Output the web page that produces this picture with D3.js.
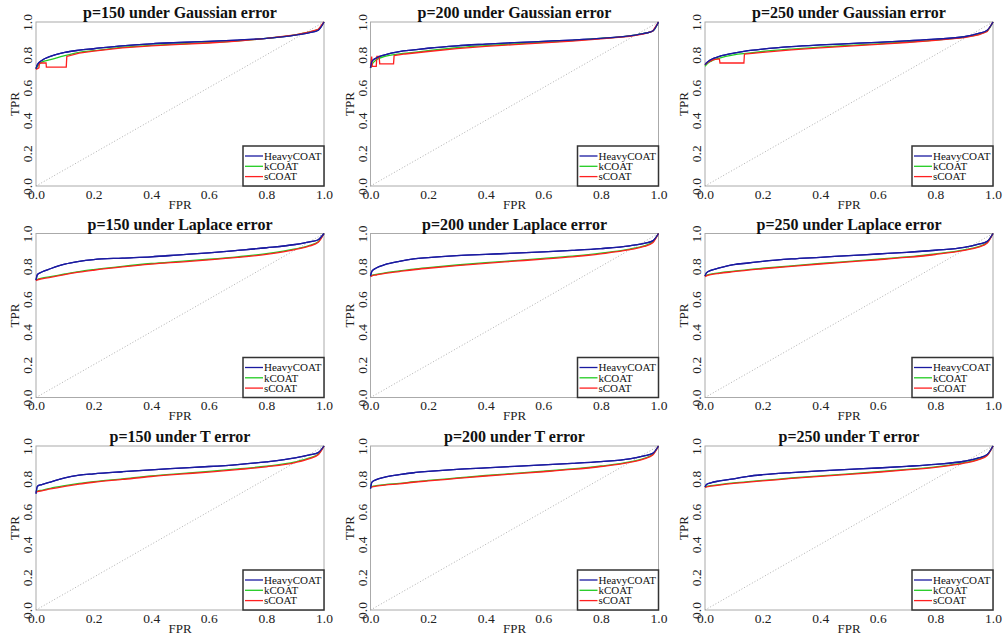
<!DOCTYPE html>
<html><head><meta charset="utf-8">
<script src="https://cdn.jsdelivr.net/npm/d3@7"></script>
<style>body{margin:0;background:#fff}svg{display:block}</style>
</head><body>
<script>
// ---------- data ----------
const seriesNames = ["HeavyCOAT", "kCOAT", "sCOAT"];
const dims = [150, 200, 250];
const errors = ["Gaussian", "Laplace", "T"];
const tickValues = [0, 0.2, 0.4, 0.6, 0.8, 1.0];
const fprGrid = [0, 0.005, 0.02, 0.05, 0.1, 0.15, 0.2, 0.3, 0.4, 0.5, 0.6, 0.7, 0.8, 0.9, 0.95, 0.98, 1.0];

// Gaussian error
const heavyG150 = [0.715, 0.74, 0.765, 0.79, 0.815, 0.828, 0.837, 0.855, 0.867, 0.875, 0.882, 0.89, 0.9, 0.92, 0.935, 0.95, 1.0];
const kG150     = [0.715, 0.73, 0.755, 0.77, 0.795, 0.815, 0.825, 0.845, 0.857, 0.866, 0.874, 0.885, 0.9, 0.922, 0.94, 0.955, 1.0];
const sFprG150  = [0, 0.01, 0.012, 0.035, 0.036, 0.105, 0.107, 0.15, 0.2, 0.3, 0.4, 0.5, 0.6, 0.7, 0.8, 0.9, 0.95, 0.98, 1.0];
const sG150     = [0.71, 0.72, 0.75, 0.75, 0.725, 0.725, 0.79, 0.81, 0.822, 0.842, 0.855, 0.864, 0.872, 0.883, 0.9, 0.922, 0.94, 0.955, 1.0];

const heavyG200 = [0.72, 0.76, 0.78, 0.80, 0.82, 0.83, 0.84, 0.855, 0.865, 0.874, 0.882, 0.89, 0.9, 0.915, 0.93, 0.945, 1.0];
const kG200     = [0.72, 0.74, 0.77, 0.79, 0.805, 0.815, 0.825, 0.843, 0.856, 0.866, 0.876, 0.887, 0.9, 0.915, 0.93, 0.945, 1.0];
const sFprG200  = [0, 0.004, 0.006, 0.009, 0.02, 0.022, 0.03, 0.032, 0.08, 0.082, 0.12, 0.2, 0.3, 0.4, 0.5, 0.6, 0.7, 0.8, 0.9, 0.95, 0.98, 1.0];
const sG200     = [0.72, 0.79, 0.73, 0.73, 0.73, 0.79, 0.79, 0.745, 0.745, 0.795, 0.805, 0.82, 0.838, 0.851, 0.862, 0.873, 0.884, 0.897, 0.913, 0.928, 0.944, 1.0];

const heavyG250 = [0.74, 0.75, 0.77, 0.79, 0.81, 0.825, 0.835, 0.85, 0.86, 0.868, 0.876, 0.885, 0.895, 0.91, 0.93, 0.95, 1.0];
const kG250     = [0.73, 0.74, 0.76, 0.78, 0.80, 0.81, 0.82, 0.835, 0.847, 0.857, 0.867, 0.878, 0.89, 0.908, 0.925, 0.945, 1.0];
const sFprG250  = [0, 0.01, 0.03, 0.05, 0.052, 0.135, 0.137, 0.2, 0.3, 0.4, 0.5, 0.6, 0.7, 0.8, 0.9, 0.95, 0.98, 1.0];
const sG250     = [0.74, 0.755, 0.77, 0.775, 0.75, 0.75, 0.805, 0.815, 0.83, 0.842, 0.853, 0.863, 0.875, 0.888, 0.905, 0.922, 0.942, 1.0];

// Laplace error
const heavyL150 = [0.715, 0.75, 0.765, 0.785, 0.813, 0.83, 0.841, 0.85, 0.858, 0.87, 0.882, 0.897, 0.913, 0.933, 0.949, 0.962, 1.0];
const kL150     = [0.715, 0.72, 0.728, 0.737, 0.753, 0.768, 0.78, 0.8, 0.817, 0.83, 0.843, 0.858, 0.877, 0.906, 0.928, 0.95, 1.0];
const sL150     = [0.712, 0.717, 0.724, 0.733, 0.749, 0.764, 0.776, 0.796, 0.813, 0.826, 0.839, 0.854, 0.873, 0.902, 0.924, 0.946, 1.0];

const heavyL200 = [0.74, 0.77, 0.79, 0.81, 0.83, 0.845, 0.853, 0.865, 0.873, 0.88, 0.888, 0.897, 0.908, 0.925, 0.94, 0.955, 1.0];
const kL200     = [0.74, 0.745, 0.75, 0.76, 0.772, 0.783, 0.792, 0.808, 0.822, 0.835, 0.848, 0.862, 0.88, 0.905, 0.925, 0.948, 1.0];
const sL200     = [0.737, 0.742, 0.747, 0.757, 0.768, 0.779, 0.788, 0.804, 0.818, 0.831, 0.844, 0.858, 0.876, 0.901, 0.921, 0.944, 1.0];

const heavyL250 = [0.74, 0.76, 0.775, 0.79, 0.81, 0.82, 0.83, 0.845, 0.855, 0.865, 0.875, 0.885, 0.898, 0.915, 0.935, 0.952, 1.0];
const kL250     = [0.74, 0.745, 0.752, 0.76, 0.77, 0.78, 0.788, 0.803, 0.817, 0.83, 0.843, 0.857, 0.875, 0.9, 0.92, 0.945, 1.0];
const sL250     = [0.737, 0.742, 0.749, 0.757, 0.767, 0.777, 0.785, 0.8, 0.814, 0.827, 0.84, 0.854, 0.872, 0.897, 0.917, 0.942, 1.0];

// T error
const heavyT150 = [0.71, 0.755, 0.765, 0.78, 0.806, 0.822, 0.83, 0.843, 0.855, 0.865, 0.875, 0.887, 0.903, 0.927, 0.946, 0.96, 1.0];
const kT150     = [0.72, 0.725, 0.73, 0.742, 0.758, 0.772, 0.783, 0.8, 0.818, 0.832, 0.845, 0.86, 0.877, 0.903, 0.927, 0.95, 1.0];
const sT150     = [0.717, 0.722, 0.727, 0.738, 0.754, 0.768, 0.779, 0.796, 0.814, 0.828, 0.841, 0.856, 0.873, 0.899, 0.923, 0.946, 1.0];

const heavyT200 = [0.74, 0.78, 0.795, 0.81, 0.825, 0.837, 0.845, 0.858, 0.867, 0.876, 0.885, 0.894, 0.905, 0.922, 0.94, 0.955, 1.0];
const kT200     = [0.75, 0.753, 0.758, 0.765, 0.772, 0.782, 0.79, 0.805, 0.82, 0.833, 0.846, 0.86, 0.878, 0.903, 0.925, 0.948, 1.0];
const sT200     = [0.747, 0.75, 0.755, 0.762, 0.769, 0.779, 0.787, 0.802, 0.817, 0.83, 0.843, 0.857, 0.875, 0.9, 0.922, 0.945, 1.0];

const heavyT250 = [0.75, 0.765, 0.775, 0.787, 0.80, 0.815, 0.825, 0.838, 0.848, 0.857, 0.866, 0.876, 0.888, 0.907, 0.927, 0.948, 1.0];
const kT250     = [0.75, 0.753, 0.758, 0.765, 0.775, 0.783, 0.79, 0.805, 0.818, 0.83, 0.843, 0.857, 0.873, 0.898, 0.92, 0.945, 1.0];
const sT250     = [0.747, 0.75, 0.755, 0.762, 0.772, 0.78, 0.787, 0.802, 0.815, 0.827, 0.84, 0.854, 0.87, 0.895, 0.917, 0.942, 1.0];

// panels in reading order: [title dims/error, heavy, k, s-fpr, s-tpr]
const panels = [
  [150, "Gaussian", heavyG150, kG150, sFprG150, sG150],
  [200, "Gaussian", heavyG200, kG200, sFprG200, sG200],
  [250, "Gaussian", heavyG250, kG250, sFprG250, sG250],
  [150, "Laplace", heavyL150, kL150, fprGrid, sL150],
  [200, "Laplace", heavyL200, kL200, fprGrid, sL200],
  [250, "Laplace", heavyL250, kL250, fprGrid, sL250],
  [150, "T", heavyT150, kT150, fprGrid, sT150],
  [200, "T", heavyT200, kT200, fprGrid, sT200],
  [250, "T", heavyT250, kT250, fprGrid, sT250]
];

// ---------- layout ----------
const W = 1005, H = 638;
const colLeft = [36, 370.5, 705];
const rowTop = [22, 233.5, 446];
const pw = 288, ph = 164;
const colors = ["#1a1aa0", "#22cc22", "#ff2020"];
const serif = "'Liberation Serif','Times New Roman',serif";

const svg = d3.select("body").append("svg").attr("width", W).attr("height", H)
  .style("font-family", serif);

const x = d3.scaleLinear().domain([0, 1]).range([0, pw]);
const y = d3.scaleLinear().domain([0, 1]).range([ph, 0]);

panels.forEach((p, i) => {
  const [dim, err, heavy, k, sFpr, s] = p;
  const g = svg.append("g").attr("transform", `translate(${colLeft[i % 3]},${rowTop[Math.floor(i / 3)]})`);

  // frame
  g.append("rect").attr("x", 0).attr("y", 0).attr("width", pw).attr("height", ph)
    .attr("fill", "none").attr("stroke", "#aaaaaa").attr("stroke-width", 1);

  // diagonal reference
  g.append("line").attr("x1", x(0)).attr("y1", y(0)).attr("x2", x(1)).attr("y2", y(1))
    .attr("stroke", "#9a9a9a").attr("stroke-width", 0.8).attr("stroke-dasharray", "1,2");

  // axes
  const xa = g.append("g").attr("transform", `translate(0,${ph})`)
    .call(d3.axisBottom(x).tickValues(tickValues).tickFormat(d3.format(".1f")).tickSize(0).tickPadding(3));
  xa.select(".domain").remove();
  xa.selectAll("text").attr("font-family", serif).attr("font-size", 13.5).attr("fill", "#222");

  const ya = g.append("g")
    .call(d3.axisLeft(y).tickValues(tickValues).tickFormat(d3.format(".1f")).tickSize(0).tickPadding(0));
  ya.select(".domain").remove();
  ya.selectAll("text").attr("font-family", serif).attr("font-size", 13.5).attr("fill", "#222")
    .attr("x", 0).attr("dy", 0).attr("text-anchor", "middle")
    .attr("transform", "translate(-4,0) rotate(-90)");

  // axis titles
  g.append("text").attr("x", pw / 2).attr("y", ph + 22.5).attr("text-anchor", "middle")
    .attr("font-size", 13).attr("fill", "#222").text("FPR");
  g.append("text").attr("transform", `translate(-17,${ph / 2}) rotate(-90)`).attr("text-anchor", "middle")
    .attr("font-size", 13).attr("fill", "#222").text("TPR");

  // title
  g.append("text").attr("x", pw / 2).attr("y", -4).attr("text-anchor", "middle")
    .attr("font-size", 16).attr("font-weight", "bold").attr("fill", "#111")
    .text(`p=${dim} under ${err} error`);

  // curves
  const curveSets = [
    fprGrid.map((f, j) => [f, heavy[j]]),
    fprGrid.map((f, j) => [f, k[j]]),
    sFpr.map((f, j) => [f, s[j]])
  ];
  const line = d3.line().x(d => x(d[0])).y(d => y(d[1]));
  [0, 1, 2].forEach(si => {
    const smooth = !(si === 2 && err === "Gaussian");
    line.curve(smooth ? d3.curveMonotoneX : d3.curveLinear);
    g.append("path").datum(curveSets[si]).attr("d", line)
      .attr("fill", "none").attr("stroke", colors[si]).attr("stroke-width", 1.3);
  });
  // redraw heavy on top slightly (as in reference, blue is visible over others)
  g.append("path").datum(curveSets[0]).attr("d", line.curve(d3.curveMonotoneX))
    .attr("fill", "none").attr("stroke", colors[0]).attr("stroke-width", 1.3);

  // legend
  const lg = g.append("g").attr("transform", `translate(${pw - 81},${ph - 40})`);
  lg.append("rect").attr("x", 0).attr("y", 0).attr("width", 81).attr("height", 40)
    .attr("fill", "#fff").attr("stroke", "#333").attr("stroke-width", 1.5);
  seriesNames.forEach((n, si) => {
    const yy = 10 + si * 10.3;
    lg.append("line").attr("x1", 2).attr("x2", 20).attr("y1", yy).attr("y2", yy)
      .attr("stroke", colors[si]).attr("stroke-width", 1.3);
    lg.append("text").attr("x", 21).attr("y", yy + 3.8).attr("font-size", 11).attr("fill", "#111").text(n);
  });
});
</script>
</body></html>
